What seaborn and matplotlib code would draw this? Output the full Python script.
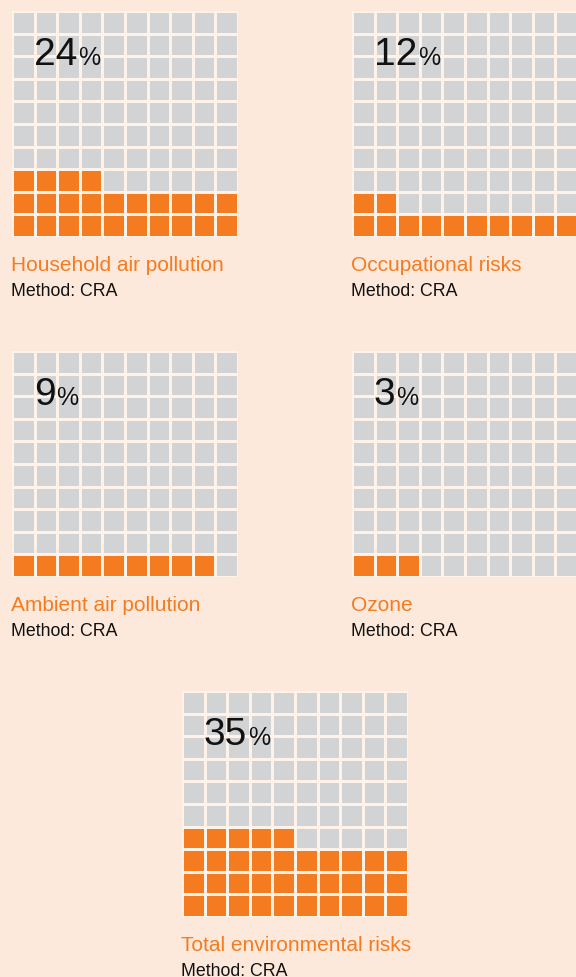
import numpy as np
import matplotlib
matplotlib.use("Agg")
import matplotlib.pyplot as plt
from matplotlib.colors import ListedColormap
import seaborn as sns

# Share of deaths attributable to each environmental risk
risks = ["Household air pollution", "Occupational risks", "Ambient air pollution",
         "Ozone", "Total environmental risks"]
percents = [24, 12, 9, 3, 35]
methods = ["Method: CRA", "Method: CRA", "Method: CRA", "Method: CRA", "Method: CRA"]

BG = "#FDE9DB"
GAP = "#FFF2E8"
GREY = "#D1D3D4"
ORANGE = "#F47B20"

sns.set_theme(style="white")
plt.rcParams["font.family"] = ["Liberation Sans", "DejaVu Sans"]

W, H = 576, 978
fig = plt.figure(figsize=(W / 100, H / 100), dpi=100, facecolor=BG)

# top-left corner (pixels) of each 10x10 waffle
corners = [(12, 12), (352, 12), (12, 352), (352, 352), (182, 692)]
SIDE = 226


def waffle_matrix(pct):
    m = np.zeros((10, 10))
    for r in range(10):
        for c in range(10):
            if (9 - r) * 10 + c < pct:
                m[r, c] = 1
    return m


for (x0, y0), name, pct, meth in zip(corners, risks, percents, methods):
    ax = fig.add_axes([x0 / W, 1 - (y0 + SIDE) / H, SIDE / W, SIDE / H])
    sns.heatmap(waffle_matrix(pct), cmap=ListedColormap([GREY, ORANGE]),
                vmin=0, vmax=1, cbar=False, linewidths=2.0, linecolor=GAP,
                xticklabels=False, yticklabels=False, square=False, ax=ax)
    ax.set_facecolor(BG)
    for s in ax.spines.values():
        s.set_visible(False)

    num = ax.annotate(f"{pct}", xy=(0, 1), xycoords="axes fraction",
                      xytext=(22, -53), textcoords="offset pixels",
                      fontsize=28, color="#111111", va="baseline", ha="left")
    fig.canvas.draw()
    ax.annotate("%", xy=(1, 0), xycoords=num, xytext=(0.5, 2.5),
                textcoords="offset points", fontsize=18, color="#111111",
                va="bottom", ha="left")

    ax.annotate(name, xy=(0, 0), xycoords="axes fraction",
                xytext=(-1, -33), textcoords="offset pixels",
                fontsize=15, color=ORANGE, va="baseline", ha="left",
                annotation_clip=False)
    ax.annotate(meth, xy=(0, 0), xycoords="axes fraction",
                xytext=(-1, -58), textcoords="offset pixels",
                fontsize=12.8, color="#111111", va="baseline", ha="left",
                annotation_clip=False)

fig.savefig("out.png", dpi=100, facecolor=BG)
